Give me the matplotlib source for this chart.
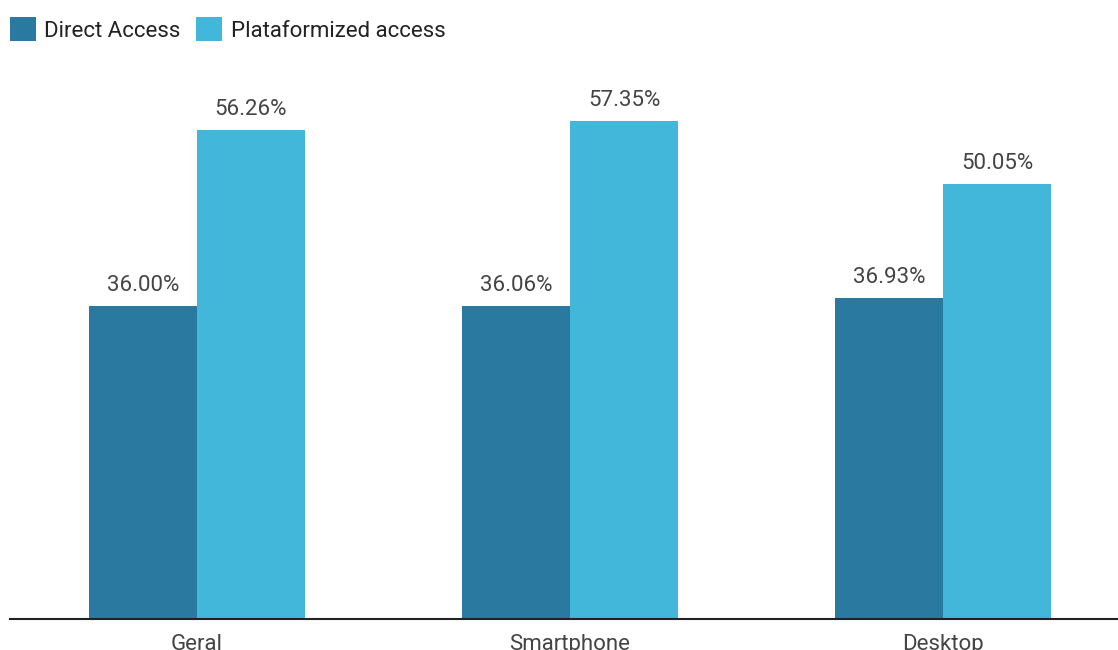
import numpy as np
import matplotlib.pyplot as plt

plt.rcParams['font.family'] = ['Roboto', 'DejaVu Sans']

categories = ['Geral', 'Smartphone', 'Desktop']
direct_access = [36.00, 36.06, 36.93]
platform_access = [56.26, 57.35, 50.05]
series_names = ['Direct Access', 'Plataformized access']

dark_blue = '#2a79a1'
light_blue = '#42b7da'
text_color = '#444444'

fig = plt.figure(figsize=(11.18, 6.5), dpi=100)
# eixo posicionado a mao para bater com a referencia
ax = fig.add_axes([10 / 1118, 31 / 650, 1108 / 1118, 554 / 650])

x = np.arange(len(categories))
width = 0.29
b1 = ax.bar(x - width / 2, direct_access, width, color=dark_blue, label=series_names[0])
b2 = ax.bar(x + width / 2, platform_access, width, color=light_blue, label=series_names[1])

ax.bar_label(b1, labels=['%.2f%%' % v for v in direct_access], padding=7,
             fontsize=16, color=text_color)
ax.bar_label(b2, labels=['%.2f%%' % v for v in platform_access], padding=7,
             fontsize=16, color=text_color)

ax.set_xlim(-0.501, 2.469)
ax.set_ylim(0, 63.75)

ax.set_xticks(x)
ax.set_xticklabels(categories, fontsize=16, color=text_color)
ax.tick_params(axis='x', length=0, pad=11)
ax.set_yticks([])
for s in ['top', 'right', 'left']:
    ax.spines[s].set_visible(False)
ax.spines['bottom'].set_color('#222222')
ax.spines['bottom'].set_linewidth(1.5)

fig.legend(loc='upper left', bbox_to_anchor=(10 / 1118, 1 - 17 / 650), ncol=2, frameon=False,
           fontsize=16, handlelength=1.15, handleheight=1.3, handletextpad=0.4,
           columnspacing=0.7, borderaxespad=0, borderpad=0, labelcolor='#222222')

fig.savefig('out.png', dpi=100)
